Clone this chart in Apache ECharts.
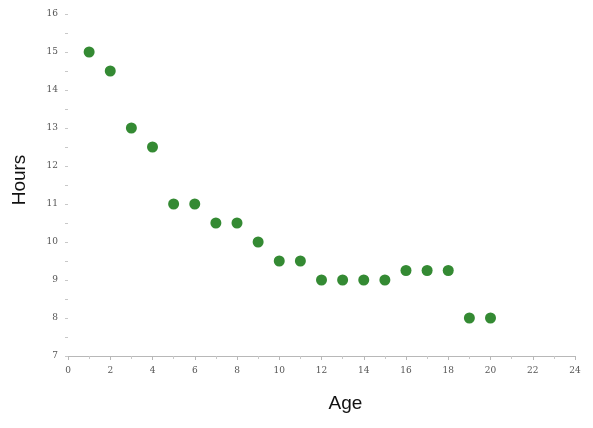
<!DOCTYPE html>
<html>
<head>
<meta charset="utf-8">
<script src="https://cdn.jsdelivr.net/npm/echarts@6/dist/echarts.min.js"></script>
<style>
    html, body { margin: 0; padding: 0; background: #fff; }
    #chart { width: 593px; height: 428px; }
</style>
</head>
<body>
<div id="chart"></div>
<script>
// age in years vs hours of sleep
const ages = [1, 2, 3, 4, 5, 6, 7, 8, 9, 10, 11, 12, 13, 14, 15, 16, 17, 18, 19, 20];
const hours = [15, 14.5, 13, 12.5, 11, 11, 10.5, 10.5, 10, 9.5, 9.5, 9, 9, 9, 9, 9.25, 9.25, 9.25, 8, 8];

const chart = echarts.init(document.getElementById('chart'));

const option = {
    animation: false,
    grid: {
        left: 68,
        right: 18,
        top: 14,
        bottom: 72,
        outerBoundsMode: 'none'
    },
    xAxis: {
        type: 'value',
        min: 0,
        max: 24,
        interval: 2,
        name: 'Age',
        nameLocation: 'middle',
        nameGap: 38,
        nameTextStyle: {
            fontFamily: 'Liberation Sans',
            fontSize: 19,
            color: '#111',
            padding: [0, 0, 0, 48]
        },
        splitLine: { show: false },
        axisLine: { lineStyle: { color: '#b8b8b8', width: 1 } },
        axisTick: { length: 4, lineStyle: { color: '#b8b8b8' } },
        minorTick: { show: true, splitNumber: 2, length: 3, lineStyle: { color: '#c8c8c8' } },
        axisLabel: {
            margin: 10,
            fontFamily: 'DejaVu Serif',
            fontSize: 9,
            color: '#555'
        }
    },
    yAxis: {
        type: 'value',
        min: 7,
        max: 16,
        interval: 1,
        name: 'Hours',
        nameLocation: 'middle',
        nameGap: 39,
        nameRotate: 90,
        nameTextStyle: {
            fontFamily: 'Liberation Sans',
            fontSize: 19,
            color: '#111',
            padding: [0, 0, 0, 10]
        },
        splitLine: { show: false },
        axisLine: { show: false },
        axisTick: { show: true, length: 3, lineStyle: { color: '#c8c8c8' } },
        minorTick: { show: true, splitNumber: 2, length: 3, lineStyle: { color: '#c8c8c8' } },
        axisLabel: {
            margin: 10,
            fontFamily: 'DejaVu Serif',
            fontSize: 9,
            color: '#555'
        }
    },
    series: [{
        type: 'scatter',
        data: ages.map((a, i) => [a, hours[i]]),
        symbol: 'circle',
        symbolSize: 11,
        itemStyle: { color: '#348a33', opacity: 1 }
    }]
};

chart.setOption(option);
</script>
</body>
</html>
